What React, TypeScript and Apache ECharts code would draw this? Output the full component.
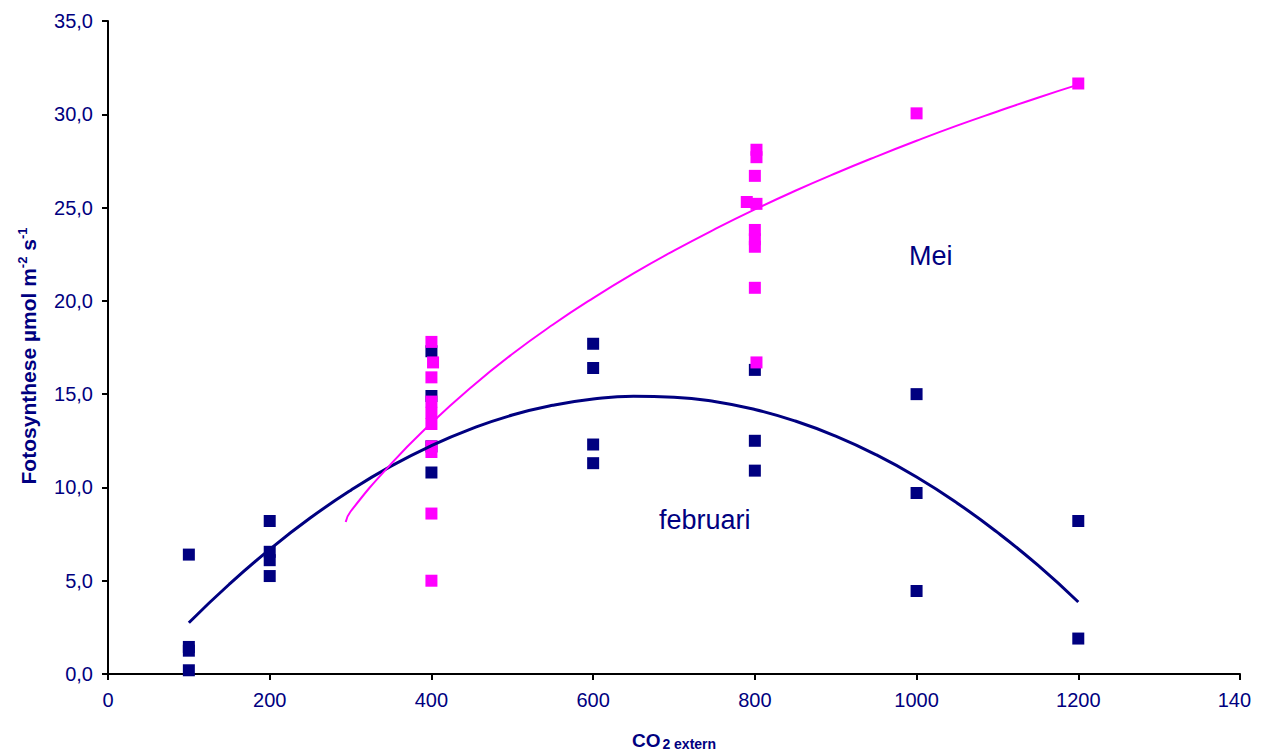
import React, { useEffect, useRef } from "react";
import * as echarts from "echarts";

// ---- data ----
const februariCO2 = [100, 100, 100, 100, 200, 200, 200, 200, 400, 400, 400, 400, 600, 600, 600, 600, 800, 800, 800, 1000, 1000, 1000, 1200, 1200];
const februariFoto = [6.4, 1.45, 1.25, 0.2, 8.2, 6.55, 6.1, 5.25, 17.3, 14.9, 12.2, 10.8, 17.7, 16.4, 12.3, 11.3, 16.3, 12.5, 10.9, 15.0, 9.7, 4.45, 8.2, 1.9];

const meiCO2 = [400, 402, 400, 400, 400, 400, 400, 400, 400, 400, 802, 802, 800, 790, 802, 800, 800, 800, 800, 802, 1000, 1200];
const meiFoto = [17.8, 16.7, 15.9, 14.6, 14.0, 13.4, 12.2, 11.9, 8.6, 5.0, 28.1, 27.7, 26.7, 25.3, 25.2, 23.8, 23.3, 22.9, 20.7, 16.7, 30.05, 31.65];

// trend lines
const febTrendX = [100, 150, 200, 250, 300, 350, 400, 450, 500, 550, 600, 650, 700, 750, 800, 850, 900, 950, 1000, 1050, 1100, 1150, 1200];
const febTrendY = [2.75, 4.81, 6.68, 8.36, 9.84, 11.14, 12.24, 13.15, 13.88, 14.4, 14.74, 14.89, 14.84, 14.61, 14.18, 13.56, 12.75, 11.75, 10.56, 9.17, 7.59, 5.83, 3.86];
const meiTrendX = [294, 300, 350, 400, 450, 500, 550, 600, 650, 700, 750, 800, 850, 900, 950, 1000, 1050, 1100, 1150, 1200];
const meiTrendY = [8.15, 8.71, 11.26, 13.45, 15.4, 17.15, 18.72, 20.15, 21.47, 22.69, 23.83, 24.9, 25.9, 26.84, 27.73, 28.58, 29.39, 30.15, 30.89, 31.59];

const xTicks = { min: 0, max: 1400, interval: 200 };
const yTicks = { min: 0, max: 35, interval: 5 };

const NAVY = "#000080";
const MAGENTA = "#FF00FF";
const FONT = "'Liberation Sans', Arial, Helvetica, sans-serif";

const pairs = (xs: number[], ys: number[]) => xs.map((x, i) => [x, ys[i]]);

export default function App() {
  const ref = useRef<HTMLDivElement>(null);
  useEffect(() => {
    if (!ref.current) return;
    const chart = echarts.init(ref.current, null, { renderer: "svg" });
    chart.setOption({
      animation: false,
      backgroundColor: "#fff",
      grid: { left: 108, right: 11, top: 21, bottom: 79, containLabel: false, outerBoundsMode: "none" },
      xAxis: {
        type: "value",
        min: xTicks.min,
        max: xTicks.max,
        interval: xTicks.interval,
        splitLine: { show: false },
        axisLine: { show: true, onZero: false, lineStyle: { color: "#000", width: 2 } },
        axisTick: { show: true, length: 6, lineStyle: { color: "#000", width: 2 } },
        axisLabel: { color: NAVY, fontSize: 20, fontFamily: FONT, margin: 16, formatter: (v: number) => String(v) },
        name: "{a|CO}{b|2 extern}",
        nameLocation: "middle",
        nameGap: 56,
        nameTextStyle: {
          rich: {
            a: { fontSize: 19, fontWeight: "bold", color: NAVY, fontFamily: FONT, lineHeight: 20 },
            b: { fontSize: 14, fontWeight: "bold", color: NAVY, fontFamily: FONT, padding: [7, 0, 0, 2] },
          },
        },
      },
      yAxis: {
        type: "value",
        min: yTicks.min,
        max: yTicks.max,
        interval: yTicks.interval,
        splitLine: { show: false },
        axisLine: { show: true, onZero: false, lineStyle: { color: "#000", width: 2 } },
        axisTick: { show: true, length: 6, lineStyle: { color: "#000", width: 2 } },
        axisLabel: {
          color: NAVY,
          fontSize: 20,
          fontFamily: FONT,
          margin: 15,
          formatter: (v: number) => v.toFixed(1).replace(".", ","),
        },
      },
      graphic: [
        {
          type: "text",
          x: 28,
          y: 356,
          rotation: Math.PI / 2,
          style: {
            text: "{a|Fotosynthese µmol m}{s|-2}{a| s}{s|-1}",
            align: "center",
            verticalAlign: "middle",
            rich: {
              a: { fontSize: 21, fontWeight: "bold", fill: NAVY, fontFamily: FONT, lineHeight: 24 },
              s: { fontSize: 13, fontWeight: "bold", fill: NAVY, fontFamily: FONT, verticalAlign: "top", lineHeight: 13 },
            },
          },
        },
        {
          type: "text",
          left: 659,
          top: 506,
          style: { text: "februari", fontSize: 27, fill: NAVY, fontFamily: FONT },
        },
        {
          type: "text",
          left: 909,
          top: 242,
          style: { text: "Mei", fontSize: 27, fill: NAVY, fontFamily: FONT },
        },
      ],
      series: [
        {
          name: "februari",
          type: "scatter",
          symbol: "rect",
          symbolSize: 12,
          itemStyle: { color: NAVY, opacity: 1 },
          data: pairs(februariCO2, februariFoto),
          z: 2,
        },
        {
          name: "Mei",
          type: "scatter",
          symbol: "rect",
          symbolSize: 12,
          itemStyle: { color: MAGENTA, opacity: 1 },
          data: pairs(meiCO2, meiFoto),
          z: 3,
        },
        {
          name: "februari trend",
          type: "line",
          smooth: true,
          showSymbol: false,
          symbol: "none",
          lineStyle: { color: NAVY, width: 3 },
          data: pairs(febTrendX, febTrendY),
          z: 4,
        },
        {
          name: "Mei trend",
          type: "line",
          smooth: true,
          showSymbol: false,
          symbol: "none",
          lineStyle: { color: MAGENTA, width: 2 },
          data: pairs(meiTrendX, meiTrendY),
          z: 5,
        },
      ],
    });
    return () => chart.dispose();
  }, []);
  return (
    <div
      ref={ref}
      style={{ position: "absolute", left: 0, top: 0, width: 1251, height: 753, overflow: "hidden", background: "#fff" }}
    />
  );
}
